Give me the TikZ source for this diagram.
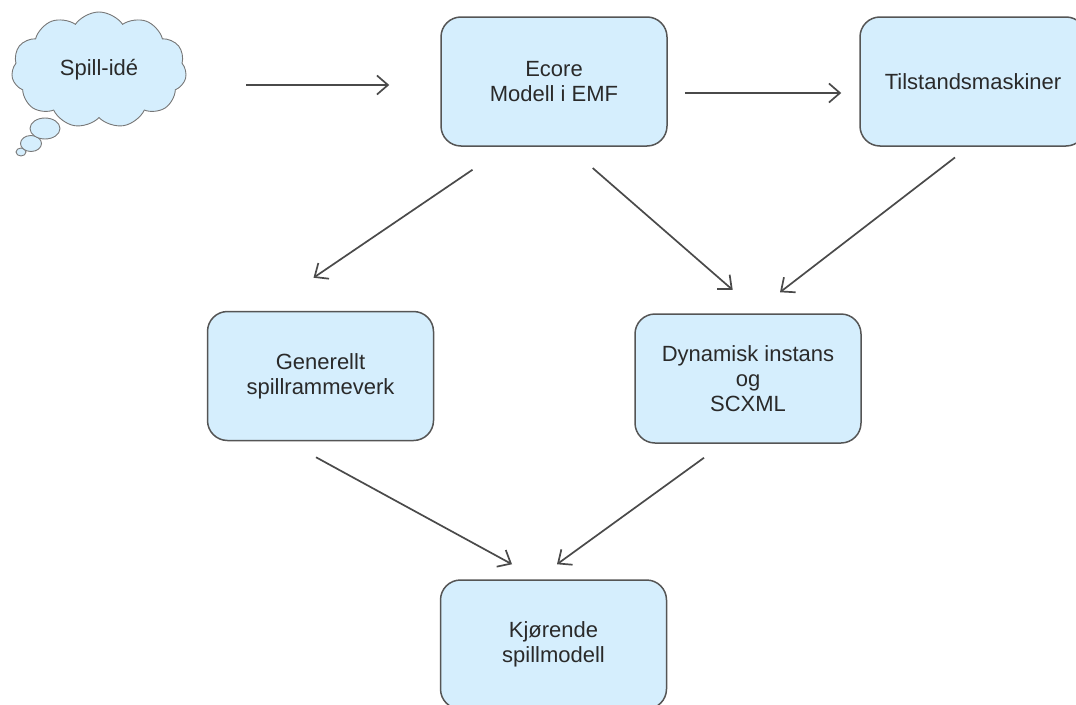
\documentclass[tikz,border=0pt]{standalone}
\usepackage{fontspec}
\setmainfont{Liberation Sans}
\usetikzlibrary{arrows.meta,shapes.symbols,shapes.geometric}
\definecolor{boxfill}{HTML}{D5EEFD}
\definecolor{boxline}{HTML}{555555}
\definecolor{txt}{HTML}{2A2A2A}
\definecolor{arrline}{HTML}{4A4A4A}
\begin{document}
\begin{tikzpicture}[x=1pt,y=-1pt,
  box/.style={draw=boxline, line width=1.5pt, fill=boxfill, rounded corners=20pt,
    minimum width=226pt, minimum height=129pt, align=center, text=txt,
    font=\fontsize{22}{25}\selectfont, inner sep=0pt},
  thought/.style={draw=boxline!80, line width=0.9pt, fill=boxfill},
  flow/.style={draw=arrline, line width=1.7pt, -{Straight Barb[length=11pt,width=19pt]}},
]
\useasboundingbox (0,0) rectangle (1076,704);

% thought bubble with the idea
\node[thought, ellipse, minimum width=10pt, minimum height=8pt, inner sep=0pt] (bub3) at (21,152) {};
\node[thought, ellipse, minimum width=21pt, minimum height=16pt, inner sep=0pt] (bub2) at (31,143.5) {};
\node[thought, ellipse, minimum width=30pt, minimum height=21pt, inner sep=0pt] (bub1) at (45,128.5) {};
\node[thought, cloud, cloud puffs=11, cloud puff arc=110, aspect=1.5,
      minimum width=175pt, minimum height=116pt, inner sep=0pt,
      text=txt, font=\fontsize{22}{25}\selectfont] (idea) at (99,70) {Spill-idé};

% process boxes
\node[box] (ecore) at (554,81.5) {Ecore\\Modell i EMF};
\node[box] (tilst) at (973,81.5) {Tilstandsmaskiner};
\node[box] (gen)   at (320.5,376) {Generellt\\spillrammeverk};
\node[box] (dyn)   at (748,378.5) {Dynamisk instans\\og\\SCXML};
\node[box] (kjor)  at (553.5,644.5) {Kjørende\\spillmodell};

% connectors
\draw[flow] ([shift={(60,15)}]idea.east) -- ([shift={(-51,3.5)}]ecore.west);
\draw[flow] ([shift={(17,11.5)}]ecore.east) -- ([shift={(-18,11.5)}]tilst.west);
\draw[flow] ([shift={(-81.5,23)}]ecore.south) -- ([shift={(-7,-33)}]gen.north);
\draw[flow] ([shift={(38.7,21.3)}]ecore.south) -- ([shift={(-15.3,-23.3)}]dyn.north);
\draw[flow] ([shift={(-18,10.7)}]tilst.south) -- ([shift={(32,-21)}]dyn.north);
\draw[flow] ([shift={(-4.5,16)}]gen.south) -- ([shift={(-41.5,-15)}]kjor.north);
\draw[flow] ([shift={(-44,14)}]dyn.south) -- ([shift={(3.5,-15)}]kjor.north);
\end{tikzpicture}
\end{document}
